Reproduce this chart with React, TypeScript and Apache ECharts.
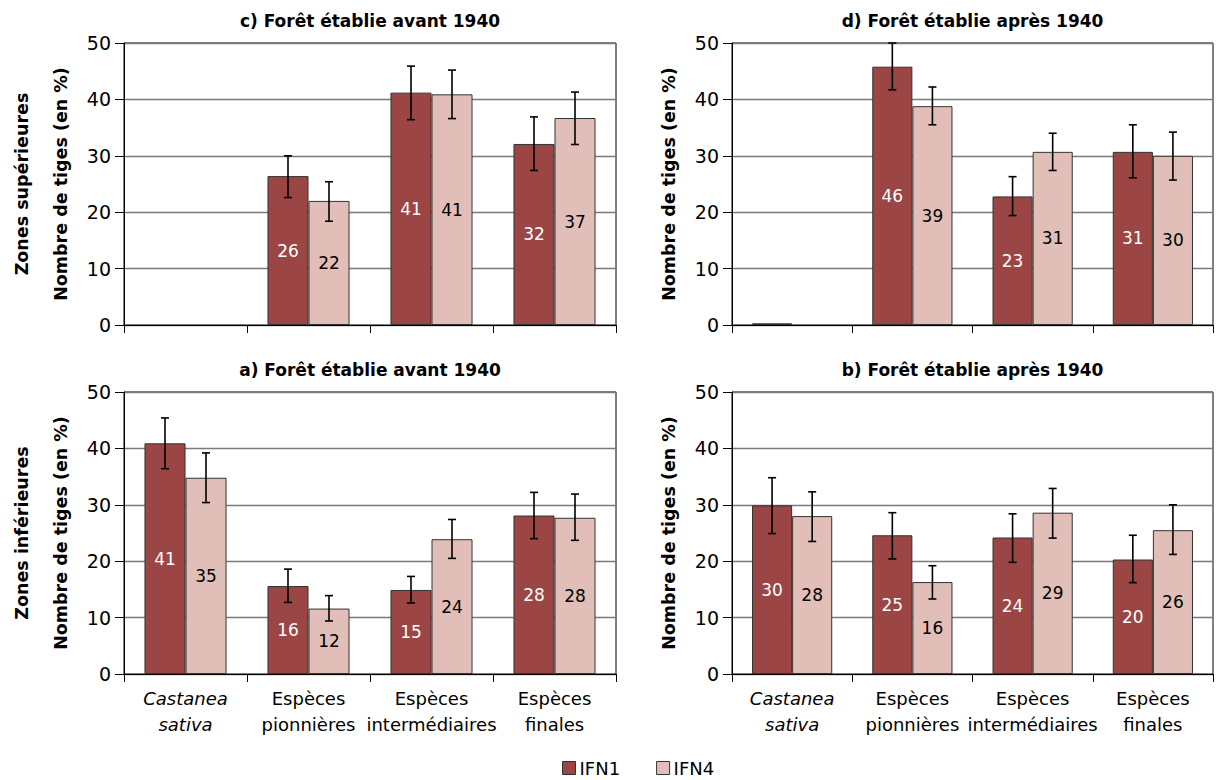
import React, { useEffect, useRef } from "react";
import * as echarts from "echarts";

const categories = ["Castanea\nsativa", "Espèces\npionnières", "Espèces\nintermédiaires", "Espèces\nfinales"];
const yTicks = [0, 10, 20, 30, 40, 50];

// c) Forêt établie avant 1940 — zones supérieures
const cIFN1 = [null, 26.4, 41.2, 32.1];
const cIFN4 = [null, 22.0, 40.9, 36.7];
const cIFN1Low = [null, 22.6, 36.4, 27.4];
const cIFN1High = [null, 30.0, 45.9, 36.9];
const cIFN4Low = [null, 18.4, 36.6, 32.0];
const cIFN4High = [null, 25.4, 45.2, 41.3];

// d) Forêt établie après 1940 — zones supérieures
const dIFN1 = [0.3, 45.8, 22.8, 30.7];
const dIFN4 = [null, 38.8, 30.7, 30.0];
const dIFN1Low = [null, 41.7, 19.4, 26.1];
const dIFN1High = [null, 50.0, 26.3, 35.5];
const dIFN4Low = [null, 35.5, 27.4, 25.7];
const dIFN4High = [null, 42.2, 34.0, 34.2];

// a) Forêt établie avant 1940 — zones inférieures
const aIFN1 = [40.9, 15.6, 14.9, 28.1];
const aIFN4 = [34.8, 11.6, 23.9, 27.7];
const aIFN1Low = [36.4, 12.7, 12.6, 24.0];
const aIFN1High = [45.4, 18.6, 17.3, 32.2];
const aIFN4Low = [30.4, 9.4, 20.5, 23.7];
const aIFN4High = [39.2, 13.9, 27.4, 31.9];

// b) Forêt établie après 1940 — zones inférieures
const bIFN1 = [29.9, 24.6, 24.2, 20.3];
const bIFN4 = [28.0, 16.3, 28.6, 25.5];
const bIFN1Low = [24.9, 20.4, 19.8, 16.2];
const bIFN1High = [34.8, 28.6, 28.4, 24.6];
const bIFN4Low = [23.5, 13.3, 24.1, 21.2];
const bIFN4High = [32.3, 19.2, 32.9, 30.0];

const COLOR1 = "#9b4545";
const COLOR4 = "#e1bfb8";
const FONT = "'DejaVu Sans', 'Open Sans', sans-serif";

const panels = [
  { title: "c) Forêt établie avant 1940", left: 124, top: 43, width: 492, v1: cIFN1, v4: cIFN4, l1: cIFN1Low, h1: cIFN1High, l4: cIFN4Low, h4: cIFN4High, labels: false },
  { title: "d) Forêt établie après 1940", left: 732, top: 43, width: 481, v1: dIFN1, v4: dIFN4, l1: dIFN1Low, h1: dIFN1High, l4: dIFN4Low, h4: dIFN4High, labels: false },
  { title: "a) Forêt établie avant 1940", left: 124, top: 392, width: 492, v1: aIFN1, v4: aIFN4, l1: aIFN1Low, h1: aIFN1High, l4: aIFN4Low, h4: aIFN4High, labels: true },
  { title: "b) Forêt établie après 1940", left: 732, top: 392, width: 481, v1: bIFN1, v4: bIFN4, l1: bIFN1Low, h1: bIFN1High, l4: bIFN4Low, h4: bIFN4High, labels: true },
];
const PH = 282;

function errData(low: (number | null)[], high: (number | null)[]) {
  const out: number[][] = [];
  low.forEach((l, i) => {
    const h = high[i];
    if (l != null && h != null) out.push([i, l, h]);
  });
  return out;
}

function errSeries(idx: number, low: (number | null)[], high: (number | null)[], sign: number) {
  return {
    type: "custom",
    name: "err" + idx + "_" + sign,
    xAxisIndex: idx,
    yAxisIndex: idx,
    z: 10,
    silent: true,
    encode: { x: 0, y: [1, 2] },
    data: errData(low, high),
    renderItem: (params: any, api: any) => {
      const x = api.value(0);
      const pl = api.coord([x, api.value(1)]);
      const ph = api.coord([x, api.value(2)]);
      const band = api.size([1, 0])[0];
      const cx = pl[0] + (sign * band) / 6;
      const cap = 4;
      const st = { stroke: "#000", lineWidth: 1.6 };
      return {
        type: "group",
        children: [
          { type: "line", shape: { x1: cx, y1: pl[1], x2: cx, y2: ph[1] }, style: st },
          { type: "line", shape: { x1: cx - cap, y1: pl[1], x2: cx + cap, y2: pl[1] }, style: st },
          { type: "line", shape: { x1: cx - cap, y1: ph[1], x2: cx + cap, y2: ph[1] }, style: st },
        ],
      };
    },
  };
}

export default function App() {
  const ref = useRef<HTMLDivElement>(null);
  useEffect(() => {
    document.body.style.margin = "0";
    if (!ref.current) return;
    const chart = echarts.init(ref.current, null, { renderer: "svg" });

    const grids = panels.map((p) => ({
      left: p.left,
      top: p.top,
      width: p.width,
      height: PH,
      show: true,
      borderColor: "#000",
      borderWidth: 1,
      backgroundColor: "transparent",
    }));

    const xAxes = panels.map((p, i) => ({
      type: "category",
      gridIndex: i,
      data: categories,
      axisLine: { lineStyle: { color: "#000", width: 1 } },
      axisTick: { show: true, length: 8, lineStyle: { color: "#000" } },
      axisLabel: {
        show: p.labels,
        interval: 0,
        margin: 11,
        fontFamily: FONT,
        fontSize: 18,
        color: "#000",
        lineHeight: 26,
        formatter: (v: string) => {
          if (v.startsWith("Castanea")) return "{i|Castanea}\n{i|sativa}";
          return v;
        },
        rich: { i: { fontStyle: "italic", fontFamily: FONT, fontSize: 18, color: "#000", lineHeight: 26 } },
      },
    }));

    const yAxes = panels.map((p, i) => ({
      type: "value",
      gridIndex: i,
      min: yTicks[0],
      max: yTicks[yTicks.length - 1],
      interval: 10,
      axisLine: { show: true, lineStyle: { color: "#000", width: 1 } },
      axisTick: { show: true, length: 9, lineStyle: { color: "#000" } },
      axisLabel: { fontFamily: FONT, fontSize: 19, color: "#000", margin: 13 },
      splitLine: { show: true, lineStyle: { color: "#7a7a7a", width: 1.3 } },
    }));

    const labelFmt = (d: any) => (d.value >= 1 ? String(Math.round(d.value)) : "");
    const series: any[] = [];
    panels.forEach((p, i) => {
      series.push({
        type: "bar",
        name: "IFN1",
        xAxisIndex: i,
        yAxisIndex: i,
        data: p.v1,
        barGap: "0%",
        barCategoryGap: "33.3%",
        itemStyle: { color: COLOR1, borderColor: "#333", borderWidth: 1 },
        label: { show: true, position: "inside", color: "#fff", fontFamily: FONT, fontSize: 17, formatter: labelFmt },
      });
      series.push({
        type: "bar",
        name: "IFN4",
        xAxisIndex: i,
        yAxisIndex: i,
        data: p.v4,
        barGap: "0%",
        barCategoryGap: "33.3%",
        itemStyle: { color: COLOR4, borderColor: "#333", borderWidth: 1 },
        label: { show: true, position: "inside", color: "#000", fontFamily: FONT, fontSize: 17, formatter: labelFmt },
      });
      series.push(errSeries(i, p.l1, p.h1, -1));
      series.push(errSeries(i, p.l4, p.h4, 1));
    });

    const graphics: any[] = [];
    panels.forEach((p) => {
      graphics.push({
        type: "text",
        x: p.left + p.width / 2,
        y: p.top - 22,
        style: { text: p.title, font: `bold 17px ${FONT}`, fill: "#000", textAlign: "center", textVerticalAlign: "middle" },
      });
      graphics.push({
        type: "text",
        x: p.left - 63,
        y: p.top + PH / 2,
        rotation: Math.PI / 2,
        style: { text: "Nombre de tiges (en %)", font: `bold 17.5px ${FONT}`, fill: "#000", textAlign: "center", textVerticalAlign: "middle" },
      });
    });
    graphics.push({
      type: "text",
      x: 22,
      y: 43 + PH / 2,
      rotation: Math.PI / 2,
      style: { text: "Zones supérieures", font: `bold 17.5px ${FONT}`, fill: "#000", textAlign: "center", textVerticalAlign: "middle" },
    });
    graphics.push({
      type: "text",
      x: 22,
      y: 392 + PH / 2,
      rotation: Math.PI / 2,
      style: { text: "Zones inférieures", font: `bold 17.5px ${FONT}`, fill: "#000", textAlign: "center", textVerticalAlign: "middle" },
    });

    chart.setOption({
      animation: false,
      backgroundColor: "#fff",
      grid: grids,
      xAxis: xAxes,
      yAxis: yAxes,
      series,
      graphic: graphics,
      legend: {
        data: ["IFN1", "IFN4"],
        left: 562,
        top: 759,
        padding: 0,
        itemWidth: 13,
        itemHeight: 13,
        itemGap: 36,
        icon: "rect",
        itemStyle: { borderColor: "#333", borderWidth: 1 },
        textStyle: { fontFamily: FONT, fontSize: 18, color: "#000", lineHeight: 18, padding: [0, 0, 0, -1] },
      },
    });
    return () => chart.dispose();
  }, []);
  return <div ref={ref} style={{ width: 1227, height: 780 }} />;
}
